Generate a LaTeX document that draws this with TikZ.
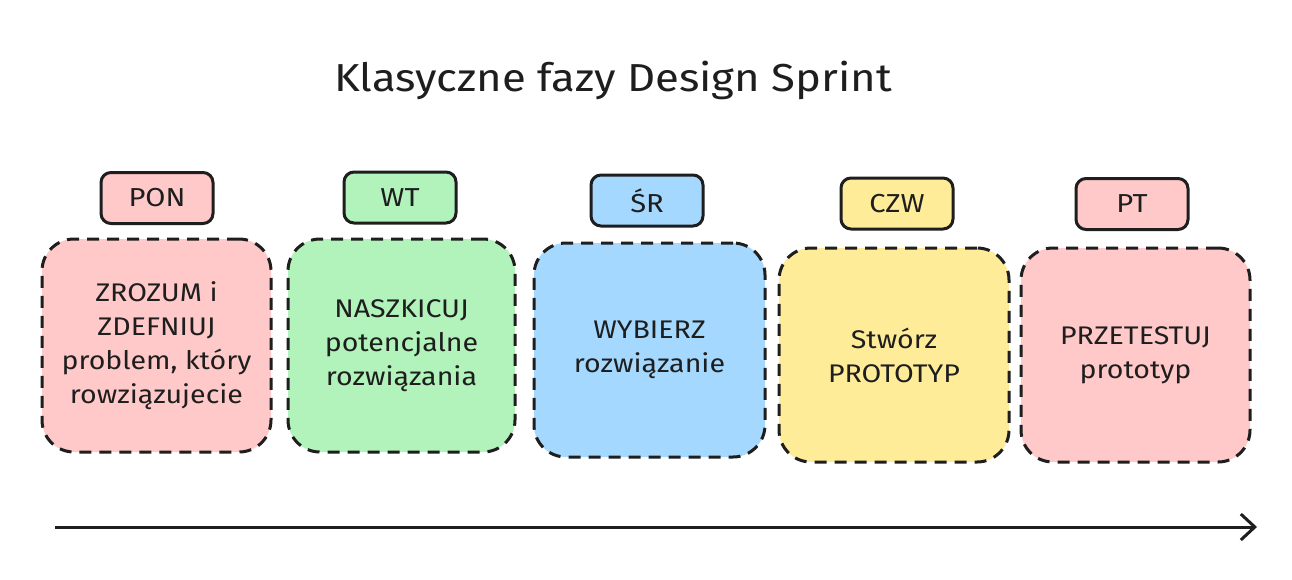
\documentclass[tikz,border=0pt]{standalone}
\usepackage{fontspec}
\setmainfont{Fira Sans}[FakeStretch=1.12]
\usetikzlibrary{arrows.meta}
\definecolor{ink}{HTML}{1E1E1E}
\definecolor{fpink}{HTML}{FFC9C9}
\definecolor{fgreen}{HTML}{B2F2BB}
\definecolor{fblue}{HTML}{A5D8FF}
\definecolor{fyellow}{HTML}{FFEC99}
\tikzset{
  phase/.style={draw=ink, line width=3pt, dash pattern=on 12pt off 8pt, rounded corners=32pt,
    minimum width=#1, inner sep=0pt, align=center, text=ink,
    font=\fontsize{25.5}{34}\selectfont},
  daybox/.style={draw=ink, line width=3pt, rounded corners=10pt, minimum width=112pt,
    minimum height=51pt, inner sep=0pt, text=ink, font=\fontsize{26}{30}\selectfont},
  timeline/.style={draw=ink, line width=3pt, -{Straight Barb[length=14pt,width=26pt,line width=3pt]}}
}
\begin{document}
\begin{tikzpicture}[x=1pt,y=-1pt]
\useasboundingbox[fill=white] (0,0) rectangle (1292,579);
\node[text=ink, font=\fontsize{39}{46}\selectfont] (title) at (613,80) {Klasyczne fazy Design Sprint};

\node[daybox, fill=fpink]   (pon) at (157,198)   {PON};
\node[daybox, fill=fgreen]  (wt)  at (400,197.5) {WT};
\node[daybox, fill=fblue]   (sr)  at (647,200.5) {ŚR};
\node[daybox, fill=fyellow] (czw) at (897,203.5) {CZW};
\node[daybox, fill=fpink]   (pt)  at (1132,204)  {PT};

\node[phase=229pt, minimum height=213pt, fill=fpink]   (p1) at (156.5,345.5) {ZROZUM i\\ZDEFNIUJ\\problem, który\\rowziązujecie};
\node[phase=227pt, minimum height=213pt, fill=fgreen]  (p2) at (401.5,345.5) {NASZKICUJ\\potencjalne\\rozwiązania};
\node[phase=231pt, minimum height=214pt, fill=fblue]   (p3) at (649.5,350)   {WYBIERZ\\rozwiązanie};
\node[phase=230pt, minimum height=214pt, fill=fyellow] (p4) at (894,355)     {Stwórz\\PROTOTYP};
\node[phase=229pt, minimum height=214pt, fill=fpink]   (p5) at (1135.5,355)  {PRZETESTUJ\\prototyp};

\coordinate (tstart) at (55,527);
\coordinate (tend) at (1257,527);
\draw[timeline] (tstart) -- (tend);
\end{tikzpicture}
\end{document}
